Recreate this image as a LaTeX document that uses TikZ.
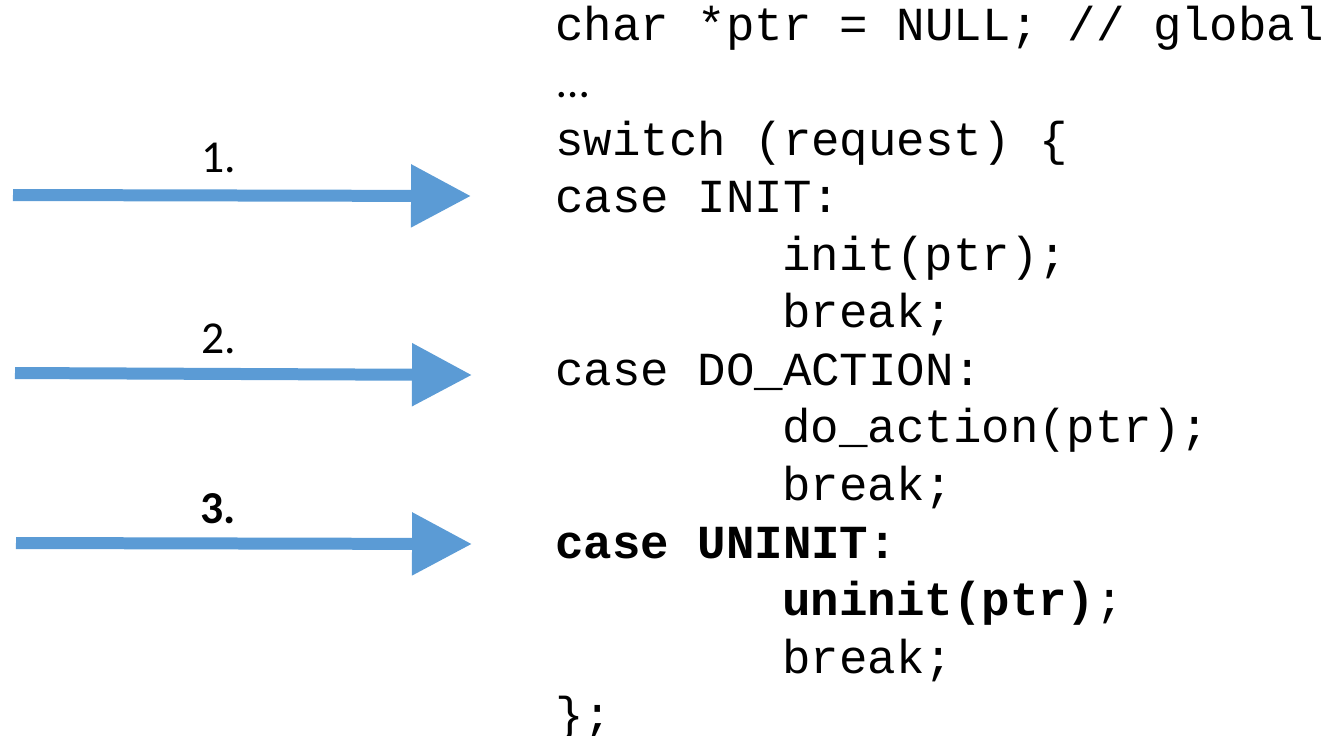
\documentclass[tikz,border=0pt]{standalone}
\usepackage{fontspec}
\newfontfamily\codefont{Liberation Mono}
\newfontfamily\numfont{Carlito}
\usetikzlibrary{arrows.meta, positioning}
\definecolor{arrblue}{HTML}{5B9BD5}

\begin{document}
\begin{tikzpicture}[x=0.02cm, y=-0.02cm,
     code/.style = {anchor=base west, inner sep=0pt,
                    font=\codefont\fontsize{27}{32}\selectfont},
      num/.style = {anchor=base west, inner sep=0pt,
                    font=\numfont\fontsize{26}{31}\selectfont},
     pointer/.style = {draw=arrblue, line width=0.24cm,
                    -{Triangle[length=1.2cm, width=1.2cm]}}
                        ]
\useasboundingbox (0,0) rectangle (1332,735);
% code
\node (decl)    [code] at (555,40)  {char *ptr = NULL; // global};
\node (dots)    [num]  at (557,97.6) {…};
\node (sw)      [code] at (555,155.1) {switch (request) \{};
\node (cinit)   [code] at (555,212.7) {case INIT:};
\node (init)    [code] at (782,270.2) {init(ptr);};
\node (brka)    [code] at (782,327.8) {break;};
\node (cdo)     [code] at (555,385.3) {case DO\_ACTION:};
\node (doact)   [code] at (782,442.9) {do\_action(ptr);};
\node (brkb)    [code] at (782,500.4) {break;};
\node (cuninit) [code] at (555,558)   {\bfseries case UNINIT:};
\node (uninit)  [code] at (782,615.5) {\textbf{uninit(ptr)};};
\node (brkc)    [code] at (782,673)   {break;};
\node (close)   [code] at (555,730.6) {\};};
% steps
\coordinate (s1) at (13,195);
\coordinate (e1) at (471,196);
\coordinate (s2) at (15,373);
\coordinate (e2) at (472,375);
\coordinate (s3) at (16,543);
\coordinate (e3) at (472,544);
\draw[pointer] (s1) -- (e1);
\draw[pointer] (s2) -- (e2);
\draw[pointer] (s3) -- (e3);
\node (n1) [num] at (201,172) {1.};
\node (n2) [num] at (201,353) {2.};
\node (n3) [num, font=\numfont\bfseries\fontsize{26}{31}\selectfont] at (200,523) {3.};
\end{tikzpicture}
\end{document}
